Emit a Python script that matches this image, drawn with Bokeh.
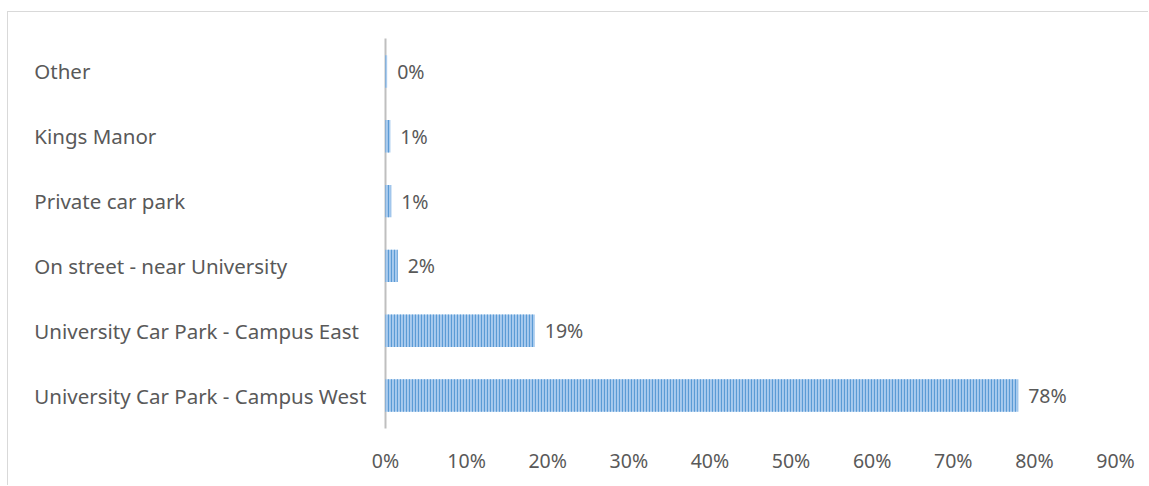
from bokeh.plotting import figure
from bokeh.models import Range1d, FixedTicker, ColumnDataSource
from bokeh.core.properties import value
from bokeh.embed import file_html
from bokeh.resources import INLINE

categories = ["University Car Park - Campus West", "University Car Park - Campus East",
              "On street - near University", "Private car park", "Kings Manor", "Other"]
shares = [78.0, 18.4, 1.5, 0.7, 0.6, 0.2]
share_labels = ["78%", "19%", "2%", "1%", "1%", "0%"]
tick_values = [0, 10, 20, 30, 40, 50, 60, 70, 80, 90]
tick_labels = ["0%", "10%", "20%", "30%", "40%", "50%", "60%", "70%", "80%", "90%"]

ypos = list(range(len(categories)))
src = ColumnDataSource(dict(y=ypos, v=shares, cat=categories, lab=share_labels,
                            lx=[-43.3] * len(categories)))

FONT = "Noto Sans"
TXT = "#595959"

p = figure(width=1141, height=474, output_backend="svg", toolbar_location=None,
           x_range=Range1d(-46.48, 94.19), y_range=Range1d(-0.694, 5.91),
           y_axis_location=None, min_border_left=0, min_border_top=0,
           min_border_right=0, min_border_bottom=46,
           styles={"border-left": "1px solid #d9d9d9", "border-top": "1px solid #d9d9d9",
                   "margin-left": "7px", "margin-top": "11px"})
p.outline_line_color = None
p.xgrid.visible = False
p.ygrid.visible = False
p.background_fill_color = "white"
p.border_fill_color = "white"

p.segment(x0=0, y0=-0.51, x1=0, y1=5.51, line_color="#bfbfbf", line_width=2)
p.hbar(y="y", left=0, right="v", height=0.5, source=src,
       fill_color="#a9cbee", line_color=None,
       hatch_pattern="vertical_line", hatch_color="#5b9bd5",
       hatch_scale=3, hatch_weight=1.2)

p.text(x="v", y="y", text="lab", source=src, x_offset=10,
       text_font=value(FONT), text_font_size="19.5px", text_color=TXT,
       text_baseline="middle", text_align="left")
p.text(x="lx", y="y", text="cat", source=src,
       text_font=value(FONT), text_font_size="20.5px", text_color=TXT,
       text_baseline="middle", text_align="left")

ax = p.xaxis[0]
ax.ticker = FixedTicker(ticks=tick_values)
ax.major_label_overrides = {t: l for t, l in zip(tick_values, tick_labels)}
ax.axis_line_color = None
ax.major_tick_line_color = None
ax.minor_tick_line_color = None
ax.major_tick_out = 0
ax.major_tick_in = 0
ax.major_label_standoff = 6
ax.major_label_text_font = FONT
ax.major_label_text_font_size = "19.5px"
ax.major_label_text_color = TXT

open("out.html", "w").write(file_html(p, INLINE))
